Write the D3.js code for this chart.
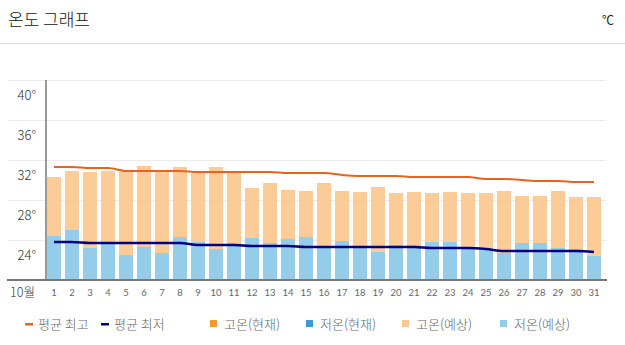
<!DOCTYPE html>
<html><head><meta charset="utf-8">
<script src="https://cdn.jsdelivr.net/npm/d3@7"></script>
<style>
html,body{margin:0;padding:0;background:#fff;}
svg{display:block;font-family:"Noto Sans CJK KR","Noto Sans",sans-serif;}
</style></head>
<body><svg id="c" width="625" height="345"></svg>
<script>
const days = d3.range(1, 32);
const highForecast = [30.3,30.9,30.8,30.9,30.8,31.4,30.8,31.3,30.7,31.3,30.7,29.2,29.7,29.0,28.9,29.7,28.9,28.8,29.3,28.7,28.8,28.7,28.8,28.7,28.7,28.9,28.4,28.4,28.9,28.3,28.3];
const lowForecast = [24.4,25.0,23.2,23.6,22.5,23.3,22.7,24.3,23.8,23.1,23.7,24.2,23.7,24.1,24.3,23.4,23.9,23.4,22.8,23.5,23.5,23.8,23.8,23.3,23.1,22.7,23.7,23.7,23.2,23.1,22.4];
const avgHigh = [31.3,31.3,31.2,31.2,30.9,30.9,30.9,30.9,30.8,30.8,30.8,30.8,30.8,30.7,30.7,30.7,30.5,30.4,30.4,30.4,30.3,30.3,30.3,30.3,30.1,30.1,30.0,29.9,29.9,29.8,29.8];
const avgLow = [23.8,23.8,23.7,23.7,23.7,23.7,23.7,23.7,23.5,23.5,23.5,23.4,23.4,23.4,23.3,23.3,23.3,23.3,23.3,23.3,23.3,23.2,23.2,23.2,23.1,22.9,22.9,22.9,22.9,22.9,22.8];
const yTicks = [24, 28, 32, 36, 40];
const legendItems = [
  {label: "평균 최고", type: "line", color: "#e8631e"},
  {label: "평균 최저", type: "line", color: "#000080"},
  {label: "고온(현재)", type: "rect", color: "#f7992f"},
  {label: "저온(현재)", type: "rect", color: "#3a9bd8"},
  {label: "고온(예상)", type: "rect", color: "#fbc892"},
  {label: "저온(예상)", type: "rect", color: "#94cdea"}
];

const svg = d3.select("#c");

// header
svg.append("text").attr("x", 8).attr("y", 26).attr("font-size", 17).attr("font-weight", 300).attr("fill", "#111").text("온도 그래프");
svg.append("text").attr("x", 614).attr("y", 25).attr("text-anchor", "end").attr("font-size", 12).attr("fill", "#222").text("℃");
svg.append("line").attr("x1", 0).attr("x2", 625).attr("y1", 43.5).attr("y2", 43.5).attr("stroke", "#dcdcdc").attr("stroke-width", 1);

const x = d3.scaleBand().domain(days).range([45, 603]).paddingInner(0.22).paddingOuter(0.11);
const y = d3.scaleLinear().domain([20, 40]).range([280, 80]);

// grid
svg.append("g").selectAll("line").data(yTicks).join("line")
  .attr("x1", 8).attr("x2", 606)
  .attr("y1", d => y(d) + 0.5).attr("y2", d => y(d) + 0.5)
  .attr("stroke", "#ececec").attr("stroke-width", 1);

// bars
svg.append("g").selectAll("rect").data(days).join("rect")
  .attr("x", d => x(d)).attr("width", x.bandwidth())
  .attr("y", (d, i) => y(highForecast[i])).attr("height", (d, i) => y(20) - y(highForecast[i]))
  .attr("fill", "#fbc892").attr("opacity", 0.95);
svg.append("g").selectAll("rect").data(days).join("rect")
  .attr("x", d => x(d)).attr("width", x.bandwidth())
  .attr("y", (d, i) => y(lowForecast[i])).attr("height", (d, i) => y(20) - y(lowForecast[i]))
  .attr("fill", "#94cdea");

// tick labels
svg.append("g").selectAll("text").data(yTicks).join("text")
  .attr("x", 36).attr("y", d => y(d) + 20).attr("text-anchor", "end")
  .attr("font-size", 13).attr("font-weight", 300).attr("fill", "#333").text(d => d + "°");

// axes
svg.append("line").attr("x1", 46).attr("x2", 46).attr("y1", 80).attr("y2", 280).attr("stroke", "#777").attr("stroke-width", 1.5);
svg.append("line").attr("x1", 7).attr("x2", 607).attr("y1", 280).attr("y2", 280).attr("stroke", "#777").attr("stroke-width", 2);

const xAxis = d3.axisBottom(x).tickSize(0).tickPadding(8);
const gx = svg.append("g").attr("transform", "translate(0,281)").call(xAxis);
gx.select(".domain").remove();
gx.selectAll("text").attr("font-size", 9.5).attr("fill", "#666").attr("font-family", "Lato, 'Noto Sans', sans-serif");
svg.append("text").attr("x", 10).attr("y", 297).attr("font-size", 12.5).attr("font-weight", 300).attr("fill", "#333").text("10월");

// avg lines
const cx = d => x(d) + x.bandwidth() / 2;
const lineHigh = d3.line().x((d, i) => cx(days[i])).y(d => y(d)).curve(d3.curveMonotoneX);
svg.append("path").attr("d", lineHigh(avgHigh)).attr("fill", "none").attr("stroke", "#e8631e").attr("stroke-width", 2);
svg.append("path").attr("d", lineHigh(avgLow)).attr("fill", "none").attr("stroke", "#000080").attr("stroke-width", 2.5);

// legend
const legX = [25, 101, 210, 306, 402, 500];
const leg = svg.append("g").selectAll("g").data(legendItems).join("g")
  .attr("transform", (d, i) => `translate(${legX[i]},324)`);
leg.filter(d => d.type === "line").append("rect")
  .attr("x", 0).attr("y", -1).attr("width", 8).attr("height", 2.5).attr("fill", d => d.color);
leg.filter(d => d.type === "rect").append("rect")
  .attr("x", 0).attr("y", -4).attr("width", 7).attr("height", 7).attr("fill", d => d.color);
leg.append("text").attr("x", d => d.type === "line" ? 13 : 14).attr("y", 5)
  .attr("font-size", 13).attr("font-weight", 300).attr("fill", "#666").text(d => d.label);
</script></body></html>
